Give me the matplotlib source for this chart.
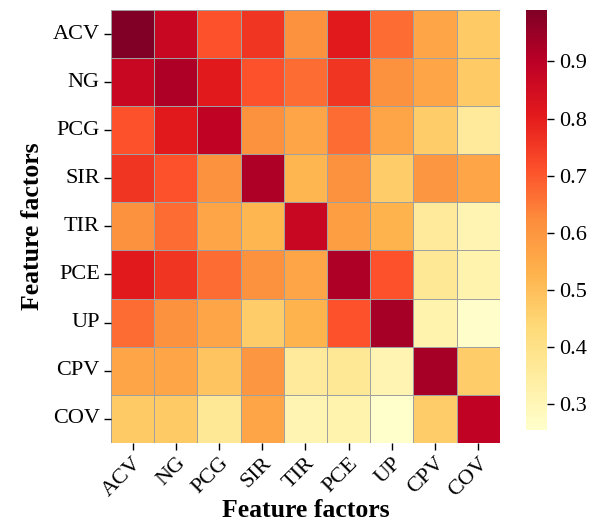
import matplotlib.pyplot as plt
import numpy as np
import seaborn as sns

plt.rcParams['font.family'] = ['Liberation Serif', 'DejaVu Serif']

factors = ['ACV', 'NG', 'PCG', 'SIR', 'TIR', 'PCE', 'UP', 'CPV', 'COV']

# correlation between feature factors (row by row)
corr = np.array([
    [0.99, 0.87, 0.71, 0.76, 0.61, 0.81, 0.67, 0.56, 0.475],
    [0.87, 0.92, 0.81, 0.71, 0.67, 0.76, 0.61, 0.56, 0.475],
    [0.71, 0.81, 0.89, 0.61, 0.56, 0.67, 0.56, 0.47, 0.36],
    [0.76, 0.71, 0.61, 0.92, 0.52, 0.61, 0.47, 0.60, 0.56],
    [0.61, 0.67, 0.56, 0.52, 0.87, 0.58, 0.53, 0.36, 0.31],
    [0.81, 0.76, 0.67, 0.61, 0.56, 0.92, 0.71, 0.37, 0.32],
    [0.67, 0.61, 0.56, 0.47, 0.53, 0.71, 0.93, 0.32, 0.26],
    [0.56, 0.56, 0.49, 0.60, 0.36, 0.37, 0.31, 0.93, 0.47],
    [0.475, 0.475, 0.37, 0.56, 0.31, 0.32, 0.255, 0.47, 0.89],
])

fig = plt.figure(figsize=(5.9, 5.24), dpi=100)
ax = fig.add_axes([0.188, 0.155, 0.659, 0.826])
cax = fig.add_axes([0.891, 0.179, 0.036, 0.802])

sns.heatmap(corr, ax=ax, cbar_ax=cax, cmap='YlOrRd',
            linewidths=0.7, linecolor='#a0a0a0',
            xticklabels=factors, yticklabels=factors)

ax.set_aspect('auto')
ax.tick_params(axis='both', length=5, width=1, labelsize=16, pad=3)
plt.setp(ax.get_xticklabels(), rotation=45, ha='right', rotation_mode='anchor')
plt.setp(ax.get_yticklabels(), rotation=0)
ax.set_xlabel('Feature factors', fontsize=18.5, fontweight='bold', labelpad=-1)
ax.set_ylabel('Feature factors', fontsize=18.5, fontweight='bold', labelpad=6)

cax.tick_params(labelsize=16, length=5, width=1)
cax.set_yticks([0.3, 0.4, 0.5, 0.6, 0.7, 0.8, 0.9])
for s in cax.spines.values():
    s.set_visible(False)

fig.savefig('out.png', dpi=100)
